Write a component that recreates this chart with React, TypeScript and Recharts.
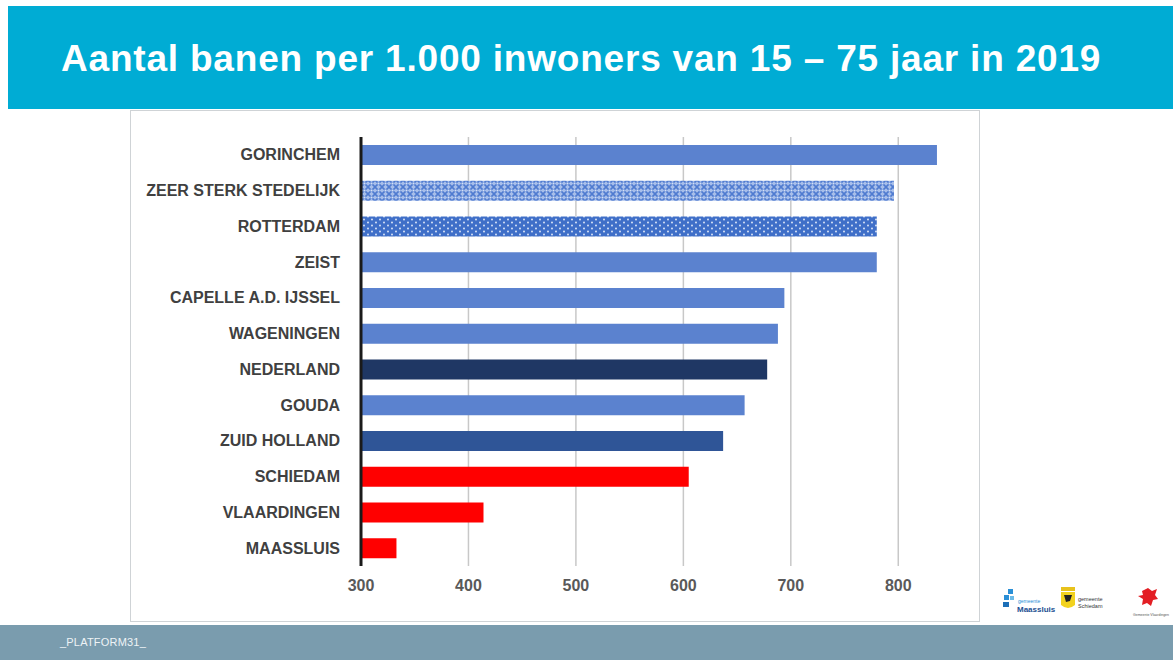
import React from "react";
import { BarChart, Bar, XAxis, YAxis, CartesianGrid, Cell } from "recharts";

const categories = [
  "GORINCHEM",
  "ZEER STERK STEDELIJK",
  "ROTTERDAM",
  "ZEIST",
  "CAPELLE A.D. IJSSEL",
  "WAGENINGEN",
  "NEDERLAND",
  "GOUDA",
  "ZUID HOLLAND",
  "SCHIEDAM",
  "VLAARDINGEN",
  "MAASSLUIS",
];

const banen = [836, 796, 780, 780, 694, 688, 678, 657, 637, 605, 414, 333];

const barFills = [
  "#5b82cf",
  "url(#lattice)",
  "url(#dots)",
  "#5b82cf",
  "#5b82cf",
  "#5b82cf",
  "#1f3764",
  "#5b82cf",
  "#2f5597",
  "#ff0000",
  "#ff0000",
  "#ff0000",
];

const xTicks = [300, 400, 500, 600, 700, 800];

const data = categories.map((name, i) => ({ name, banen: banen[i] }));

const FONT = "'Liberation Sans', Arial, sans-serif";

function CategoryTick(props: any) {
  const { x, y, payload } = props;
  return (
    <text
      x={x}
      y={y}
      dy={5.5}
      textAnchor="end"
      fill="#404040"
      fontSize={16}
      fontWeight="bold"
      fontFamily={FONT}
    >
      {payload.value}
    </text>
  );
}

function Logos() {
  return (
    <div
      style={{
        position: "absolute",
        left: 1000,
        top: 583,
        width: 173,
        height: 36,
        fontFamily: FONT,
      }}
    >
      {/* maassluis */}
      <svg width={60} height={36} style={{ position: "absolute", left: 0, top: 0 }}>
        <rect x={8} y={6} width={5} height={5} fill="#2a8fd6" />
        <rect x={4} y={12} width={5} height={5} fill="#2a8fd6" />
        <rect x={10} y={13} width={4} height={4} fill="#6cbbe8" />
        <rect x={3} y={19} width={6} height={5} fill="#1d6fb8" />
        <text x={18} y={20} fontSize={5} fill="#2a8fd6">gemeente</text>
        <text x={17} y={29} fontSize={8} fontWeight="bold" fill="#1d4f91">Maassluis</text>
      </svg>
      {/* schiedam */}
      <svg width={56} height={36} style={{ position: "absolute", left: 58, top: 0 }}>
        <rect x={3} y={4} width={14} height={4} fill="#e8c21c" />
        <path d="M3 9 h14 v13 q-7 6 -14 0 z" fill="#f2d21e" />
        <path d="M6 12 l8 0 l-2 6 l-4 1 z" fill="#222" />
        <text x={20} y={18} fontSize={5.5} fill="#333">gemeente</text>
        <text x={20} y={25} fontSize={5.5} fill="#333">Schiedam</text>
      </svg>
      {/* vlaardingen */}
      <svg width={40} height={36} style={{ position: "absolute", left: 132, top: 0 }}>
        <path
          d="M10 8 l6 -3 l4 3 l5 -2 l-2 6 l3 4 l-5 1 l-2 6 l-4 -3 l-5 2 l1 -6 l-5 -3 l5 -1 z"
          fill="#e31e24"
        />
        <text x={1} y={33} fontSize={3.5} fill="#555">Gemeente Vlaardingen</text>
      </svg>
    </div>
  );
}

export default function App() {
  return (
    <div
      style={{
        position: "fixed",
        left: 0,
        top: 0,
        width: 1173,
        height: 660,
        background: "#ffffff",
        overflow: "hidden",
        fontFamily: FONT,
      }}
    >
      {/* title banner */}
      <div
        style={{
          position: "absolute",
          left: 8,
          top: 6,
          width: 1165,
          height: 103,
          background: "#00acd4",
        }}
      />
      <div
        style={{
          position: "absolute",
          left: 61,
          top: 37,
          color: "#ffffff",
          fontSize: 37,
          fontWeight: "bold",
          letterSpacing: 0.8,
          whiteSpace: "nowrap",
          lineHeight: "44px",
        }}
      >
        Aantal banen per 1.000 inwoners van 15 – 75 jaar in 2019
      </div>

      {/* chart frame */}
      <div
        style={{
          position: "absolute",
          left: 130,
          top: 110,
          width: 848,
          height: 510,
          border: "1px solid #cfd3d6",
          background: "#ffffff",
        }}
      />
      <div style={{ position: "absolute", left: 130, top: 110 }}>
        <BarChart
          width={850}
          height={512}
          data={data}
          layout="vertical"
          margin={{ top: 27, right: 28, left: 0, bottom: 26 }}
          barSize={20}
        >
          <defs>
            <pattern id="lattice" width={7} height={7} patternUnits="userSpaceOnUse">
              <rect width={7} height={7} fill="#a8bfea" />
              <path d="M0 0 L7 7 M7 0 L0 7" stroke="#4f7bd0" strokeWidth={1.6} />
              <rect x={2.5} y={2.5} width={2} height={2} fill="#d4e0f6" />
            </pattern>
            <pattern id="dots" width={8} height={6} patternUnits="userSpaceOnUse">
              <rect width={8} height={6} fill="#3f6fc8" />
              <circle cx={2} cy={1.5} r={0.9} fill="#e6eefb" />
              <circle cx={6} cy={4.5} r={0.9} fill="#e6eefb" />
            </pattern>
          </defs>
          <CartesianGrid
            horizontal={false}
            verticalValues={xTicks}
            stroke="#c8c8c8"
            strokeWidth={1.5}
          />
          <XAxis
            type="number"
            domain={[300, 850]}
            ticks={xTicks}
            allowDataOverflow
            axisLine={false}
            tickLine={false}
            tickSize={6}
            tickMargin={8}
            height={30}
            tick={{ fill: "#595959", fontSize: 16, fontWeight: "bold", fontFamily: FONT }}
          />
          <YAxis
            type="category"
            dataKey="name"
            width={231}
            axisLine={{ stroke: "#1a1a1a", strokeWidth: 3 }}
            tickLine={false}
            tickSize={6}
            tickMargin={15}
            interval={0}
            tick={<CategoryTick />}
          />
          <Bar dataKey="banen" isAnimationActive={false}>
            {data.map((_, i) => (
              <Cell key={`cell-${i}`} fill={barFills[i]} />
            ))}
          </Bar>
        </BarChart>
      </div>

      <Logos />

      {/* footer */}
      <div
        style={{
          position: "absolute",
          left: 0,
          top: 625,
          width: 1173,
          height: 35,
          background: "#7a9cae",
        }}
      />
      <div
        style={{
          position: "absolute",
          left: 60,
          top: 636,
          color: "#eef3f6",
          fontSize: 11,
          letterSpacing: 0.2,
          whiteSpace: "nowrap",
        }}
      >
        _PLATFORM31_
      </div>
    </div>
  );
}
